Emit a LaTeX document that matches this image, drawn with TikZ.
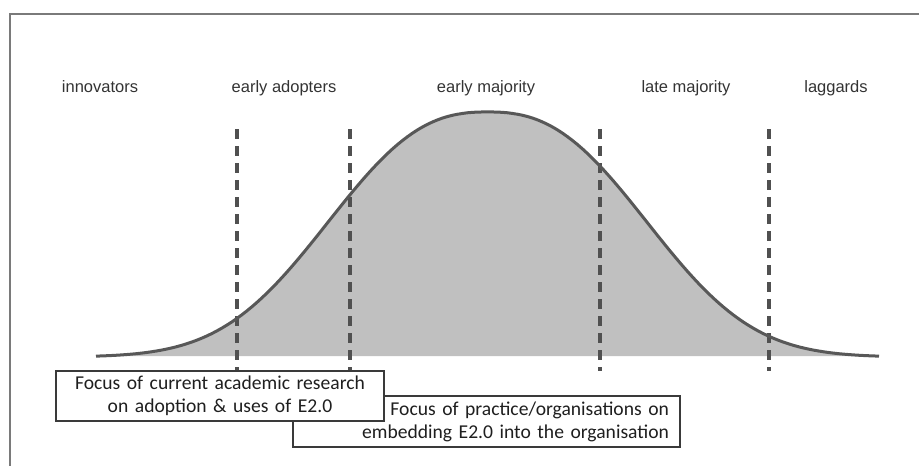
\documentclass[tikz,border=0pt]{standalone}
\usepackage{fontspec}
\setmainfont{Liberation Sans}
\newfontfamily\boxfont{Carlito}
\definecolor{framegray}{HTML}{7A7A7A}
\definecolor{curvegray}{HTML}{585858}
\definecolor{dashgray}{HTML}{505050}
\definecolor{areagray}{HTML}{C0C0C0}
\definecolor{labelgray}{HTML}{333333}
\definecolor{boxline}{HTML}{3A3A3A}
\begin{document}
\begin{tikzpicture}[x=1pt,y=-1pt,
  frame/.style={draw=framegray,line width=2pt},
  bell/.style={draw=curvegray,line width=3pt,line join=round},
  divider/.style={draw=dashgray,line width=3.2pt,dash pattern=on 10pt off 7pt},
  lbl/.style={text=labelgray,font=\fontsize{16.5}{19}\selectfont,anchor=base,inner sep=0pt},
  focusbox/.style={draw=boxline,line width=1.3pt,fill=white,inner ysep=2pt,
    font=\boxfont\fontsize{19.6}{23}\selectfont,text=black!88}
]
\useasboundingbox (0,0) rectangle (919,466);
% outer frame (open towards the right and bottom)
\draw[frame] (919,14) -- (10,14) -- (10,466);

% adoption curve: flat-topped bell, centre 487.5, baseline 357
\fill[areagray] plot[domain=-391.5:391.5,samples=157]
  ({487.5+\x},{357-245*exp(-pow((abs(\x)+0.01)/196,2.5))}) -- cycle;

% segment dividers
\foreach \xx in {237,350,600,769}
  \draw[divider] (\xx,129) -- (\xx,371);

\draw[bell] plot[domain=-391.5:391.5,samples=157]
  ({487.5+\x},{357-245*exp(-pow((abs(\x)+0.01)/196,2.5))});

% segment labels
\node[lbl] (innov) at (100,92) {innovators};
\node[lbl] (early) at (284,92) {early adopters};
\node[lbl] (emaj) at (486,92) {early majority};
\node[lbl] (lmaj) at (686,92) {late majority};
\node[lbl] (lag) at (836,92) {laggards};

% focus boxes
\node[focusbox,minimum width=387pt,minimum height=51pt,text width=365pt,
  inner xsep=11pt,align=right] (practice) at (486.5,421.5)
  {Focus of practice/organisations on\\embedding E2.0 into the organisation};
\node[focusbox,minimum width=328pt,minimum height=50pt,text width=310pt,
  inner xsep=9pt,align=center] (research) at (220,396)
  {Focus of current academic research\\on adoption \& uses of E2.0};
\end{tikzpicture}
\end{document}
